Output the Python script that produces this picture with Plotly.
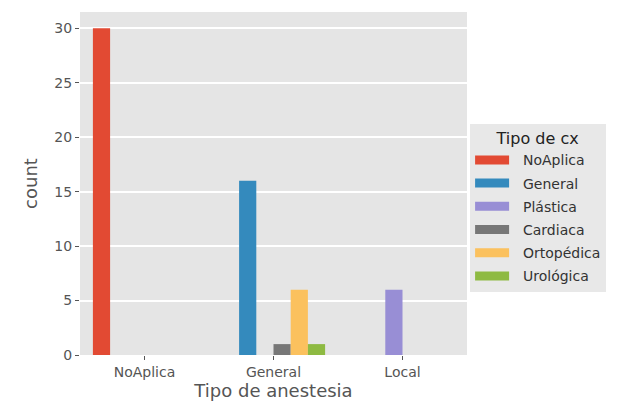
import plotly.graph_objects as go

categories = ["NoAplica", "General", "Local"]
hue_levels = ["NoAplica", "General", "Plástica", "Cardiaca", "Ortopédica", "Urológica"]
counts = {
    "NoAplica":   [30, None, None],
    "General":    [None, 16, None],
    "Plástica":   [None, None, 6],
    "Cardiaca":   [None, 1, None],
    "Ortopédica": [None, 6, None],
    "Urológica":  [None, 1, None],
}
colors = ["#E24A33", "#348ABD", "#988ED5", "#777777", "#FBC15E", "#8EBA42"]

fig = go.Figure()
for name, col in zip(hue_levels, colors):
    fig.add_trace(go.Bar(x=[0, 1, 2], y=counts[name], name=name,
                         marker=dict(color=col, line=dict(width=0)),
                         legendgroup=name, showlegend=False))
# legend entries drawn as wide rectangles (matplotlib-style patches)
for name, col in zip(hue_levels, colors):
    fig.add_trace(go.Scatter(x=[None], y=[None], mode="lines",
                             name="\u00a0\u00a0" + name,
                             line=dict(color=col, width=9),
                             legendgroup=name, showlegend=True))

font = "DejaVu Sans, Arial, sans-serif"
fig.update_layout(
    width=624, height=408,
    margin=dict(l=72, r=165, t=4, b=61),
    paper_bgcolor="white", plot_bgcolor="#E5E5E5",
    barmode="group", bargap=0.2, bargroupgap=0,
    font=dict(family=font, color="#555555", size=14),
    xaxis=dict(range=[-0.5, 2.5], tickmode="array", tickvals=[0, 1, 2],
               ticktext=categories, showgrid=False, zeroline=False,
               ticks="outside", ticklen=4, tickcolor="#555555",
               tickfont=dict(size=14, color="#555555"),
               title=dict(text="Tipo de anestesia", font=dict(size=18, color="#555555"), standoff=4)),
    yaxis=dict(range=[0, 31.5], tickvals=[0, 5, 10, 15, 20, 25, 30],
               showgrid=True, gridcolor="white", gridwidth=1.5, zeroline=False,
               ticks="outside", ticklen=4, tickcolor="#555555",
               tickfont=dict(size=14, color="#555555"),
               title=dict(text="count", font=dict(size=18, color="#555555"), standoff=12)),
    legend=dict(x=1.008, xanchor="left", y=0.43, yanchor="middle",
                bgcolor="#E8E8E8", borderwidth=0,
                title=dict(text="Tipo de cx", font=dict(size=16, color="#222222"), side="top center"),
                font=dict(size=14, color="#333333"),
                tracegroupgap=2, traceorder="grouped", itemwidth=34),
    showlegend=True,
)

fig.write_html("out.html")
